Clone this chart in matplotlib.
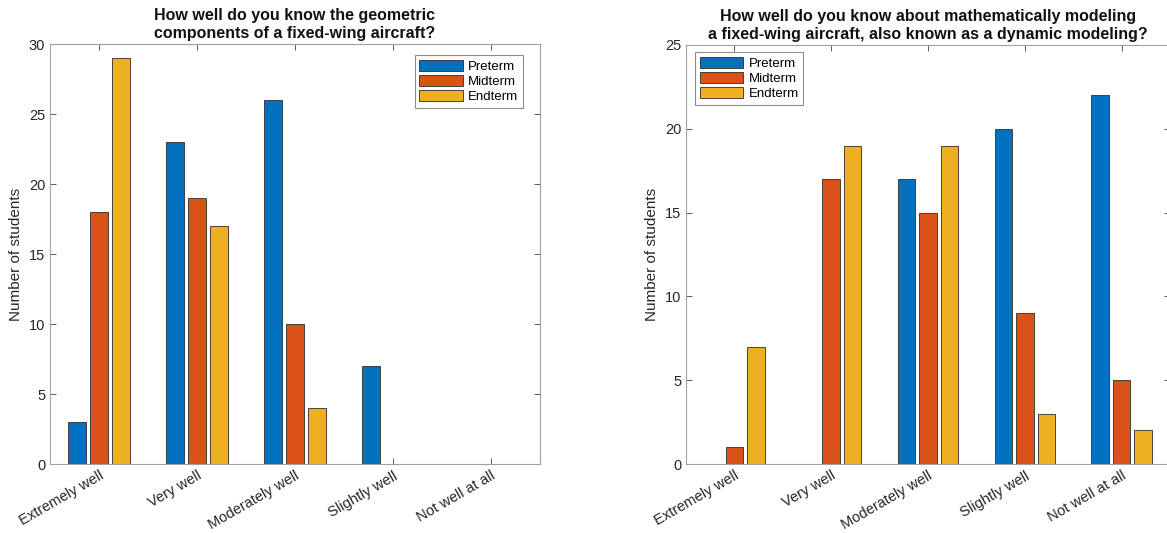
import matplotlib
matplotlib.use("Agg")
import matplotlib.pyplot as plt
import numpy as np

categories = ["Extremely well", "Very well", "Moderately well", "Slightly well", "Not well at all"]
series_names = ["Preterm", "Midterm", "Endterm"]
colors = ["#0072BD", "#D95319", "#EDB120"]

left_pre = [3, 23, 26, 7, 0]
left_mid = [18, 19, 10, 0, 0]
left_end = [29, 17, 4, 0, 0]

right_pre = [0, 0, 17, 20, 22]
right_mid = [1, 17, 15, 9, 5]
right_end = [7, 19, 19, 3, 2]

left_title = "How well do you know the geometric\ncomponents of a fixed-wing aircraft?"
right_title = "How well do you know about mathematically modeling\na fixed-wing aircraft, also known as a dynamic modeling?"

plt.rcParams['font.family'] = ['Liberation Sans', 'DejaVu Sans']

fig = plt.figure(figsize=(11.67, 5.33), dpi=100)
ax1 = fig.add_axes([50/1167, 1-464/533, 490/1167, 420/533])
ax2 = fig.add_axes([686/1167, 1-464/533, 484/1167, 419/533])

def draw(ax, data, title, ymax, legend_loc, anchor):
    x = np.arange(1, len(categories)+1)
    step = 0.222
    width = 0.18
    for i, (vals, name, c) in enumerate(zip(data, series_names, colors)):
        ax.bar(x + (i-1)*step, vals, width=width, color=c, edgecolor="#2e2e2e",
               linewidth=0.6, label=name, zorder=2)
    ax.set_xlim(0.5, len(categories)+0.5)
    ax.set_ylim(0, ymax)
    ax.set_yticks(np.arange(0, ymax+1, 5))
    ax.set_xticks(x)
    ax.set_xticklabels(categories, rotation=30, ha="right", rotation_mode="anchor")
    ax.tick_params(direction="in", top=True, right=True, length=4, width=0.6,
                   colors="#404040", labelsize=10.5, labelcolor="#262626")
    for s in ax.spines.values():
        s.set_color("#a0a0a0")
        s.set_linewidth(0.8)
    ax.set_ylabel("Number of students", fontsize=11, color="#262626")
    ax.set_title(title, fontsize=11.5, fontweight="bold", color="#111111", pad=4, linespacing=1.3)
    leg = ax.legend(loc=legend_loc, bbox_to_anchor=anchor, bbox_transform=fig.transFigure,
                    fontsize=9.5, frameon=True, fancybox=False,
                    handlelength=3.3, handleheight=1.0, handletextpad=0.4,
                    borderpad=0.35, labelspacing=0.12, borderaxespad=0.0)
    leg.get_frame().set_edgecolor("#707070")
    leg.get_frame().set_linewidth(0.8)

draw(ax1, [left_pre, left_mid, left_end], left_title, 30, "upper right", (523/1167, 1-55/533))
draw(ax2, [right_pre, right_mid, right_end], right_title, 25, "upper left", (695/1167, 1-52/533))

fig.savefig("out.png", dpi=100)
